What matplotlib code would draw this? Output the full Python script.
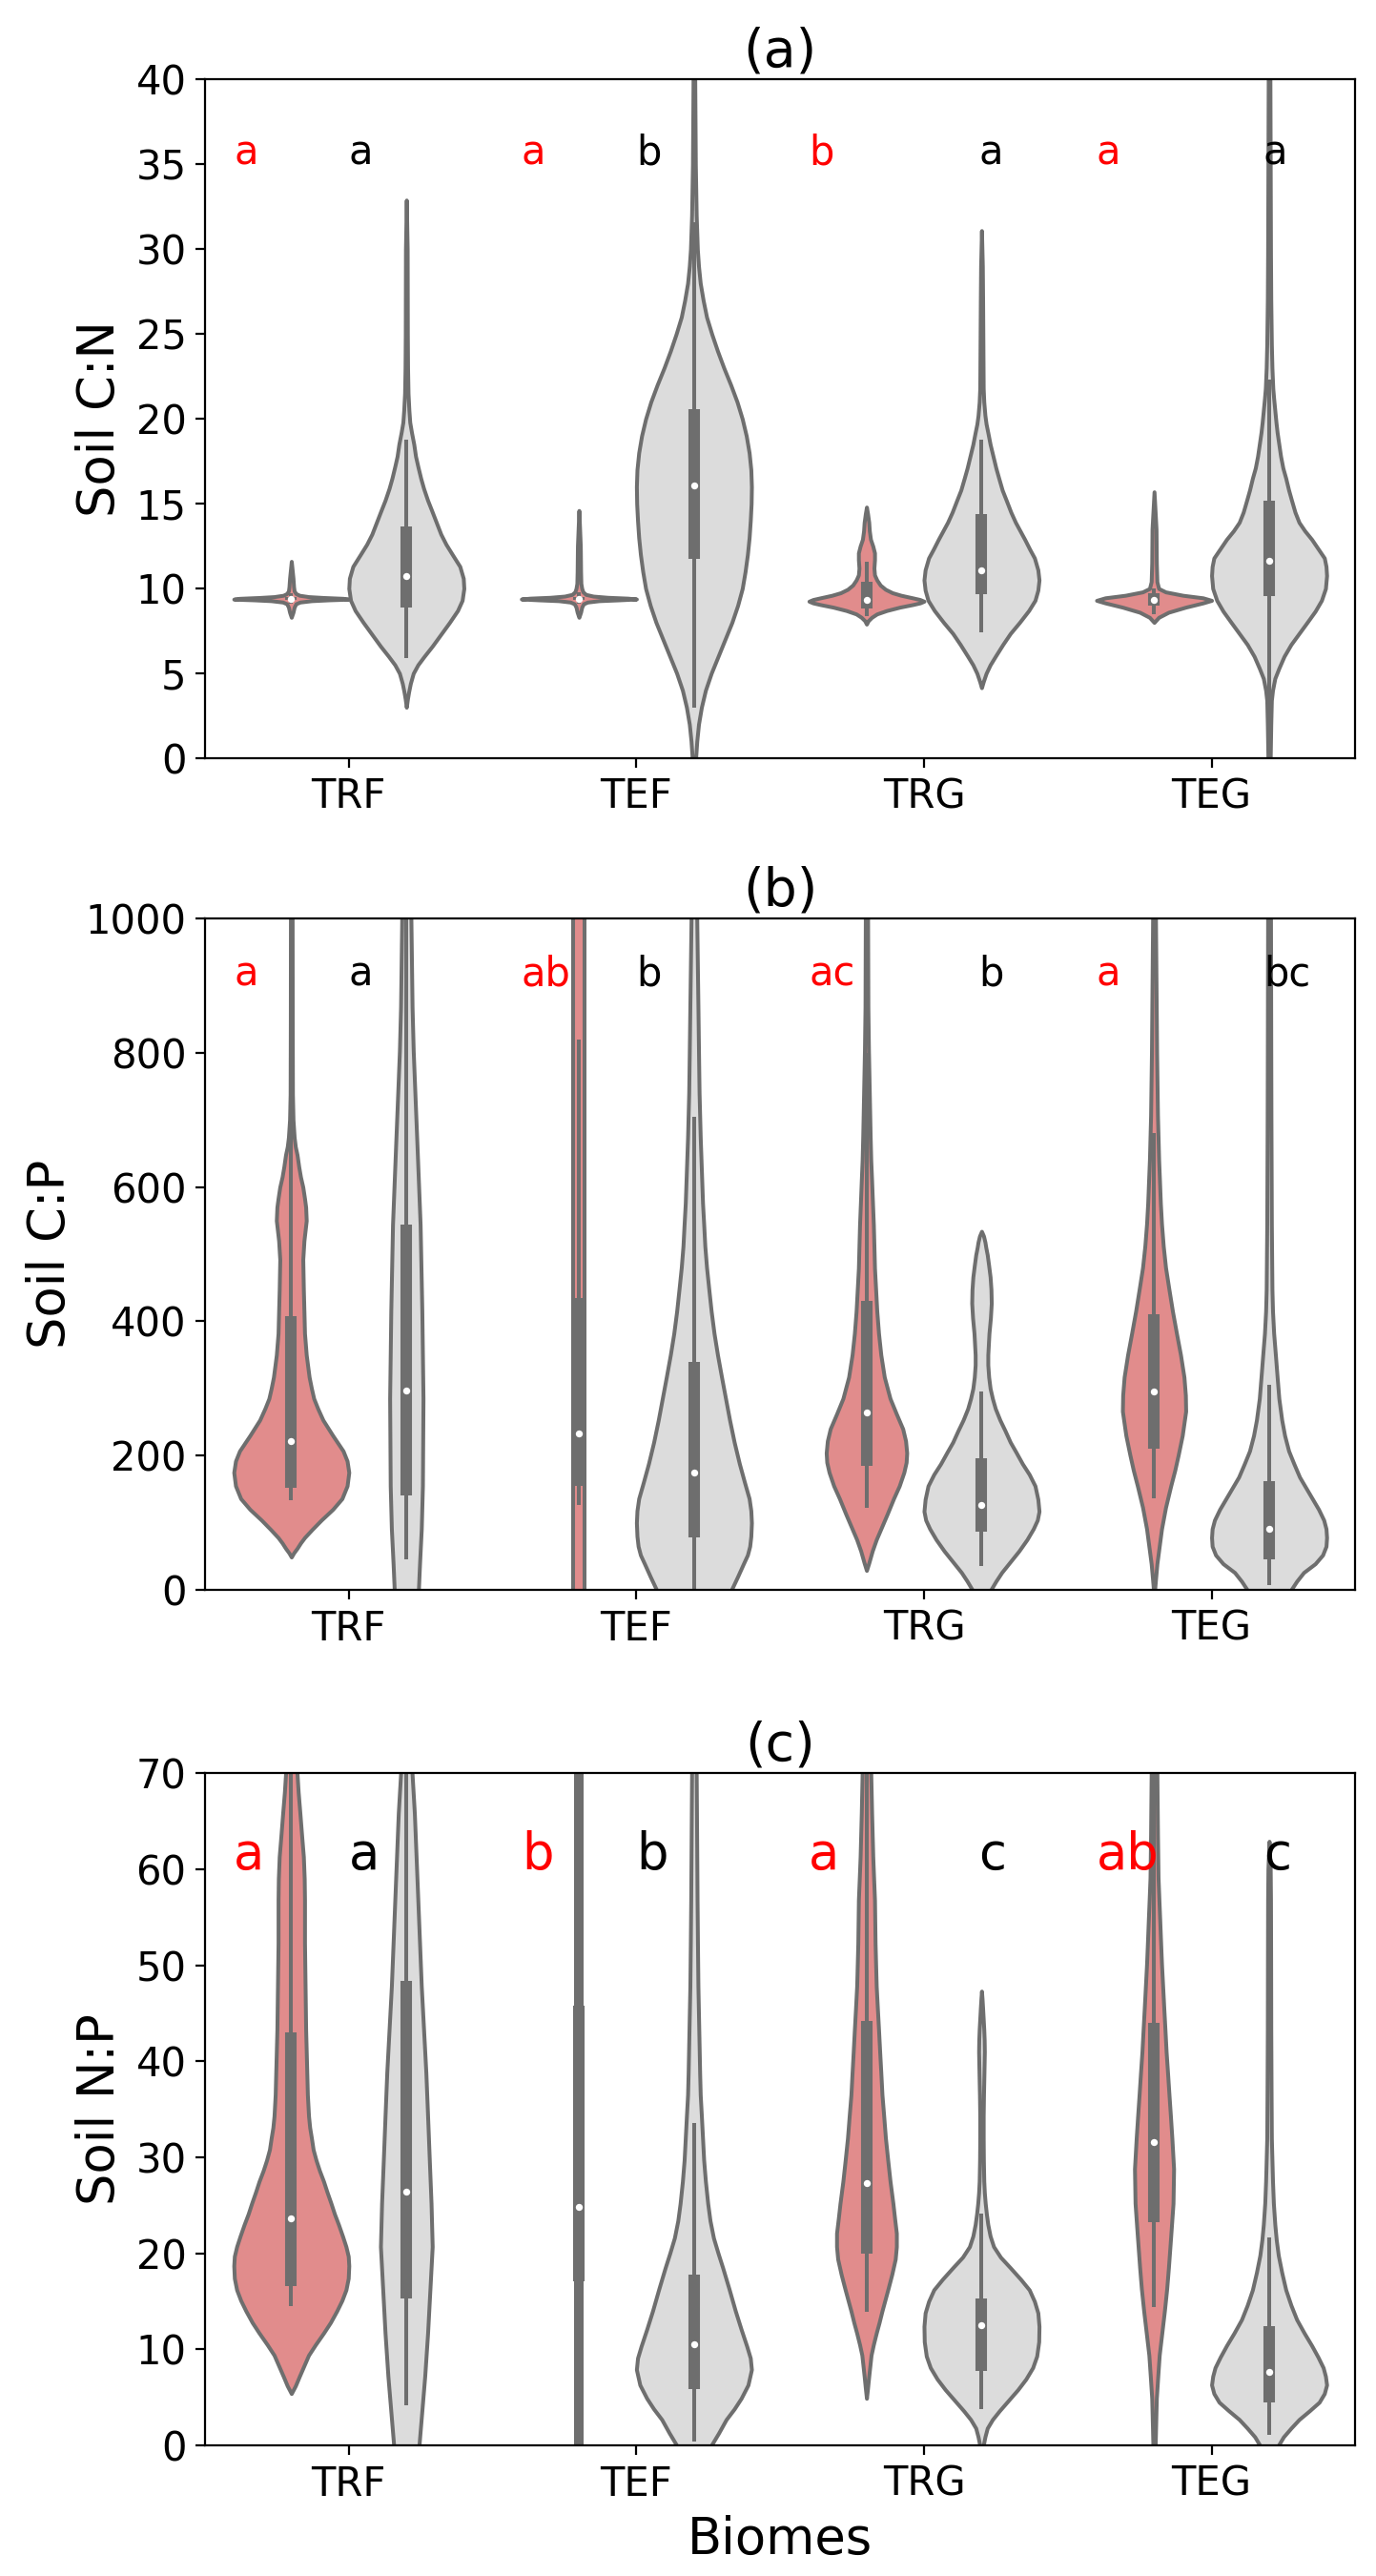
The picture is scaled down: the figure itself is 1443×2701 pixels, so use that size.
import numpy as np
import matplotlib
matplotlib.use("Agg")
import matplotlib.pyplot as plt

plt.rcParams['font.family'] = ['DejaVu Sans']

biomes = ["TRF", "TEF", "TRG", "TEG"]
fill_colors = ["#e18c8c", "#dcdcdc"]   # red group, gray group
line_gray = "#6e6e6e"

# ---- (a) Soil C:N  -- order: TRF red, TRF gray, TEF red, TEF gray, TRG red, TRG gray, TEG red, TEG gray
cn_y = [
    [8.3, 8.6, 8.9, 9.1, 9.2, 9.28, 9.33, 9.37, 9.42, 9.47, 9.52, 9.6, 9.7, 9.85, 10.1, 10.6, 11.6],
    [3.0, 3.5, 3.9, 4.4, 5.0, 5.5, 6.0, 6.6, 7.3, 8.0, 8.7, 9.3, 10.0, 10.6, 11.3, 12.0, 12.6, 13.2, 13.9,
     14.6, 15.2, 15.9, 16.5, 17.2, 17.8, 18.5, 19.2, 19.8, 20.5, 21.5, 23, 25, 30, 32.9],
    [8.3, 8.6, 8.9, 9.1, 9.2, 9.28, 9.33, 9.38, 9.43, 9.48, 9.55, 9.65, 9.8, 10.0, 10.3, 11, 12.5, 14.6],
    [-3, -1, 0, 1, 2, 3, 4, 5, 6, 7, 8, 9, 10, 11, 12, 13, 14, 15, 16, 17, 18, 19, 20, 21, 22, 23, 24,
     25, 26, 27, 28, 29, 30, 32, 35, 40, 44],
    [7.9, 8.1, 8.3, 8.5, 8.7, 8.9, 9.05, 9.15, 9.25, 9.35, 9.45, 9.6, 9.75, 9.95, 10.2, 10.5, 10.8, 11.2,
     11.7, 12.1, 12.5, 12.9, 13.4, 13.9, 14.4, 14.8],
    [4.15, 4.5, 5.0, 5.5, 6.0, 6.7, 7.35, 8.0, 8.7, 9.3, 9.9, 10.5, 11.1, 11.8, 12.3, 12.9, 13.4, 13.9,
     14.5, 15.2, 15.8, 16.5, 17.1, 17.8, 18.5, 19.2, 19.7, 20.2, 21, 21.8, 24.4, 27, 29, 31.1],
    [8.0, 8.3, 8.6, 8.9, 9.15, 9.3, 9.45, 9.6, 9.8, 10.0, 10.4, 11.5, 13.5, 15.7],
    [-3, 0, 2, 3.4, 4.0, 4.7, 5.3, 6.0, 6.7, 7.35, 8.0, 8.66, 9.3, 10.0, 10.76, 11.3, 11.8, 12.3, 12.9,
     13.4, 13.9, 14.5, 15.2, 15.8, 16.5, 17.1, 17.8, 18.5, 19.2, 19.8, 20.5, 21.2, 21.8, 23, 24.4, 27,
     29.7, 34.9, 40, 44],
]
cn_w = [
    [0, 0.03, 0.05, 0.08, 0.15, 0.35, 0.65, 1.0, 0.9, 0.55, 0.3, 0.14, 0.08, 0.05, 0.04, 0.03, 0],
    [0, 0.02, 0.04, 0.07, 0.12, 0.2, 0.31, 0.45, 0.6, 0.75, 0.89, 0.97, 1.0, 0.99, 0.93, 0.8, 0.69, 0.6, 0.52,
     0.44, 0.37, 0.3, 0.25, 0.2, 0.16, 0.13, 0.09, 0.06, 0.045, 0.03, 0.022, 0.018, 0.015, 0],
    [0, 0.03, 0.05, 0.08, 0.15, 0.35, 0.7, 1.0, 0.85, 0.5, 0.25, 0.12, 0.07, 0.05, 0.035, 0.03, 0.025, 0],
    [0, 0.015, 0.03, 0.05, 0.08, 0.13, 0.2, 0.3, 0.42, 0.54, 0.66, 0.76, 0.84, 0.89, 0.93, 0.96, 0.98, 0.995,
     1.0, 0.99, 0.96, 0.91, 0.84, 0.75, 0.64, 0.52, 0.41, 0.31, 0.22, 0.16, 0.11, 0.08, 0.06, 0.04, 0.025,
     0.015, 0.01],
    [0, 0.03, 0.09, 0.18, 0.35, 0.58, 0.8, 0.93, 1.0, 0.93, 0.8, 0.6, 0.45, 0.33, 0.24, 0.18, 0.14, 0.13,
     0.14, 0.14, 0.11, 0.07, 0.05, 0.04, 0.02, 0],
    [0, 0.03, 0.08, 0.15, 0.24, 0.37, 0.5, 0.66, 0.82, 0.93, 0.98, 1.0, 0.98, 0.92, 0.84, 0.75, 0.67, 0.59,
     0.51, 0.43, 0.36, 0.3, 0.25, 0.2, 0.15, 0.11, 0.08, 0.06, 0.04, 0.03, 0.025, 0.02, 0.015, 0],
    [0, 0.08, 0.25, 0.55, 0.85, 1.0, 0.85, 0.5, 0.2, 0.08, 0.05, 0.04, 0.035, 0],
    [0, 0.02, 0.03, 0.04, 0.06, 0.1, 0.17, 0.26, 0.38, 0.52, 0.66, 0.8, 0.91, 0.98, 1.0, 0.99, 0.96, 0.86,
     0.74, 0.62, 0.52, 0.45, 0.39, 0.34, 0.29, 0.24, 0.2, 0.17, 0.14, 0.12, 0.1, 0.08, 0.065, 0.05, 0.04,
     0.03, 0.025, 0.02, 0.015, 0.01],
]
# q1, median, q3, lower whisker, upper whisker
cn_box = [
    (9.3, 9.38, 9.5, 9.1, 9.7), (8.85, 10.76, 13.65, 5.9, 18.8),
    (9.3, 9.4, 9.5, 9.1, 9.75), (11.76, 16.1, 20.55, 3.0, 31.6),
    (8.8, 9.3, 10.4, 8.4, 11.6), (9.66, 11.07, 14.4, 7.4, 18.8),
    (9.0, 9.3, 9.7, 8.5, 10.0), (9.58, 11.63, 15.17, 1.0, 22.3),
]

# ---- (b) Soil C:P
cp_y = [
    [49, 55, 62, 70, 78, 90, 104, 120, 136, 155, 175, 192, 207, 230, 253, 270, 285, 300, 317, 350, 382, 415,
     447, 492, 520, 550, 570, 583, 600, 615, 630, 648, 660, 674, 700, 738, 850, 1000, 1100],
    [-40, 0, 39, 91, 155, 285, 415, 544, 609, 674, 738, 803, 868, 933, 997, 1100],
    [-100, 0, 500, 1000, 1100],
    [-60, -30, 0, 20, 39, 52, 65, 80, 100, 118, 136, 160, 188, 220, 253, 285, 317, 350, 382, 415, 447, 480,
     512, 545, 576, 625, 674, 740, 803, 870, 933, 997, 1100],
    [29, 40, 58, 75, 91, 113, 136, 155, 175, 190, 204, 222, 240, 262, 285, 317, 350, 382, 415, 447, 479, 512,
     544, 576, 609, 640, 674, 738, 803, 868, 1000, 1100],
    [-20, 0, 13, 26, 42, 58, 75, 91, 104, 117, 135, 155, 172, 188, 205, 220, 237, 253, 270, 285, 300, 317,
     335, 350, 366, 382, 405, 427, 447, 466, 483, 499, 510, 518, 527, 534],
    [-10, 0, 20, 39, 65, 91, 123, 155, 178, 201, 230, 266, 290, 317, 350, 382, 415, 447, 480, 512, 545, 576,
     609, 641, 674, 706, 800, 900, 1000, 1100],
    [-40, -20, 0, 13, 26, 39, 52, 65, 78, 91, 104, 120, 136, 152, 168, 188, 207, 230, 253, 285, 317, 350,
     382, 415, 447, 544, 700, 800, 1000, 1100],
]
cp_w = [
    [0, 0.04, 0.1, 0.16, 0.23, 0.36, 0.52, 0.72, 0.88, 0.97, 1.0, 0.97, 0.9, 0.72, 0.55, 0.46, 0.39, 0.35,
     0.31, 0.26, 0.23, 0.22, 0.21, 0.2, 0.22, 0.26, 0.25, 0.23, 0.2, 0.16, 0.13, 0.1, 0.07, 0.05, 0.03, 0.02,
     0.017, 0.015, 0.01],
    [0.19, 0.21, 0.23, 0.26, 0.28, 0.29, 0.27, 0.24, 0.21, 0.18, 0.15, 0.12, 0.1, 0.09, 0.08, 0.07],
    [0.095, 0.095, 0.095, 0.095, 0.095],
    [0.35, 0.5, 0.65, 0.76, 0.86, 0.93, 0.97, 0.99, 1.0, 0.99, 0.96, 0.88, 0.79, 0.7, 0.62, 0.55, 0.48, 0.41,
     0.35, 0.3, 0.26, 0.22, 0.19, 0.17, 0.15, 0.13, 0.11, 0.09, 0.08, 0.07, 0.06, 0.05, 0.045],
    [0, 0.04, 0.1, 0.17, 0.25, 0.36, 0.47, 0.57, 0.65, 0.69, 0.7, 0.68, 0.63, 0.52, 0.41, 0.31, 0.25, 0.21,
     0.18, 0.16, 0.14, 0.13, 0.12, 0.105, 0.09, 0.075, 0.065, 0.05, 0.035, 0.025, 0.02, 0.015],
    [0.02, 0.16, 0.25, 0.35, 0.5, 0.65, 0.79, 0.9, 0.97, 1.0, 0.98, 0.93, 0.83, 0.71, 0.6, 0.5, 0.41, 0.32,
     0.24, 0.19, 0.15, 0.125, 0.11, 0.11, 0.12, 0.13, 0.155, 0.17, 0.165, 0.15, 0.125, 0.1, 0.075, 0.06,
     0.035, 0],
    [0, 0.01, 0.03, 0.05, 0.09, 0.13, 0.2, 0.29, 0.36, 0.42, 0.49, 0.55, 0.545, 0.52, 0.46, 0.39, 0.32, 0.26,
     0.2, 0.16, 0.13, 0.11, 0.095, 0.08, 0.07, 0.06, 0.045, 0.035, 0.025, 0.02],
    [0.05, 0.2, 0.38, 0.48, 0.6, 0.8, 0.93, 0.99, 1.0, 0.99, 0.95, 0.86, 0.75, 0.64, 0.53, 0.43, 0.34, 0.27,
     0.22, 0.17, 0.14, 0.11, 0.08, 0.06, 0.05, 0.04, 0.033, 0.03, 0.025, 0.02],
]
cp_box = [
    (152, 221.5, 408, 134, 792), (141, 297, 544, 45, 1148),
    (155, 233, 434, 126, 819), (78, 175, 340, 0, 705),
    (185, 264, 431, 122, 800), (87, 126, 196, 36, 295),
    (210, 295, 411, 136, 681), (45, 91, 162, 6.5, 306),
]

# ---- (c) Soil N:P
np_y = [
    [5.4, 6.2, 7.2, 8.3, 9.4, 10.5, 11.7, 12.8, 14.0, 15.1, 16.2, 17.4, 18.7, 19.7, 20.7, 21.8, 23.0, 24.1,
     25.2, 26.4, 27.5, 28.6, 29.7, 30.8, 32, 33.1, 34.3, 36.5, 38.8, 43.3, 47.8, 52.3, 56.8, 59, 61.3, 63.5,
     65.8, 68, 69.9, 72, 75, 80],
    [-5, 0, 3.6, 7.2, 11.7, 16.2, 20.7, 25.2, 29.7, 34.3, 38.8, 43.3, 47.8, 52.3, 56.8, 61.3, 65.8, 69.9, 75],
    [-10, 0, 40, 70, 80],
    [-3, -1.5, 0, 1.3, 2.7, 3.8, 4.9, 6.3, 7.9, 9.1, 10.3, 12.1, 14.0, 16.3, 18.5, 20, 21.6, 23.4, 25.2,
     27.5, 29.7, 32, 34.3, 36.5, 38.8, 43.3, 47.8, 52.3, 56.8, 61.3, 65.8, 69.9, 75],
    [4.9, 6.0, 7.2, 8.3, 9.4, 10.5, 11.7, 12.8, 14.0, 15.1, 16.2, 17.8, 19.4, 20.7, 22.1, 23.6, 25.2, 27.5,
     29.7, 32, 34.3, 36.5, 38.8, 41, 43.3, 45.5, 47.8, 50, 52.3, 56.8, 59, 61.3, 65.8, 70, 75],
    [-1, 0, 0.9, 1.8, 2.7, 3.6, 4.7, 5.8, 6.9, 8.1, 9.3, 10.8, 12.4, 13.8, 15.0, 16.2, 17.3, 18.5, 19.6,
     20.7, 21.8, 23.0, 24.1, 25.2, 26.3, 27.5, 29.7, 32, 34.3, 36.5, 38.8, 41, 42.2, 43.3, 44.4, 45.5, 46.5,
     47.3],
    [-2, 0, 2.5, 4.9, 7.2, 9.4, 11.7, 14, 16.3, 18.5, 21.8, 25.2, 28.8, 32, 34.3, 36.5, 38.8, 41, 43.3,
     45.5, 47.8, 50.1, 52.3, 54.6, 56.8, 59.1, 61.3, 63.6, 66.8, 70, 75],
    [-2, -1, 0, 0.9, 1.8, 2.7, 3.6, 4.5, 5.4, 6.3, 7.2, 8.1, 9.2, 10.4, 11.7, 13.1, 14.6, 16.2, 18, 19.8,
     21.4, 23, 25.2, 27.5, 29.7, 32, 37, 43.3, 50, 56.8, 60, 62.9],
]
np_w = [
    [0, 0.07, 0.14, 0.22, 0.3, 0.42, 0.56, 0.68, 0.79, 0.88, 0.95, 0.99, 1.0, 0.99, 0.95, 0.89, 0.82, 0.75,
     0.69, 0.62, 0.56, 0.49, 0.43, 0.38, 0.35, 0.32, 0.3, 0.28, 0.27, 0.25, 0.24, 0.23, 0.23, 0.225, 0.21,
     0.18, 0.15, 0.12, 0.1, 0.05, 0.02, 0],
    [0.18, 0.22, 0.27, 0.32, 0.37, 0.41, 0.45, 0.43, 0.4, 0.37, 0.34, 0.3, 0.26, 0.23, 0.2, 0.17, 0.14, 0.1, 0.07],
    [0.05, 0.05, 0.05, 0.05, 0.05],
    [0.1, 0.2, 0.3, 0.43, 0.56, 0.7, 0.82, 0.94, 1.0, 0.98, 0.92, 0.82, 0.72, 0.61, 0.5, 0.42, 0.34, 0.28,
     0.24, 0.2, 0.17, 0.15, 0.13, 0.11, 0.1, 0.085, 0.07, 0.062, 0.055, 0.05, 0.045, 0.04, 0.035],
    [0, 0.02, 0.04, 0.06, 0.08, 0.12, 0.17, 0.22, 0.27, 0.32, 0.37, 0.44, 0.5, 0.52, 0.52, 0.49, 0.46, 0.41,
     0.37, 0.33, 0.3, 0.27, 0.25, 0.23, 0.21, 0.19, 0.17, 0.16, 0.15, 0.14, 0.125, 0.11, 0.09, 0.075, 0.06],
    [0, 0.03, 0.06, 0.1, 0.19, 0.31, 0.47, 0.63, 0.77, 0.89, 0.96, 0.995, 1.0, 0.98, 0.92, 0.83, 0.68, 0.5,
     0.33, 0.21, 0.15, 0.11, 0.085, 0.065, 0.05, 0.04, 0.033, 0.03, 0.03, 0.035, 0.043, 0.05, 0.047, 0.04,
     0.03, 0.02, 0.01, 0],
    [0, 0.02, 0.03, 0.04, 0.065, 0.09, 0.135, 0.18, 0.22, 0.25, 0.29, 0.33, 0.34, 0.31, 0.285, 0.26, 0.235,
     0.21, 0.19, 0.17, 0.15, 0.13, 0.115, 0.1, 0.085, 0.07, 0.065, 0.06, 0.055, 0.05, 0.04],
    [0.02, 0.08, 0.16, 0.25, 0.38, 0.52, 0.7, 0.87, 0.96, 1.0, 0.98, 0.94, 0.85, 0.74, 0.61, 0.48, 0.38,
     0.29, 0.22, 0.16, 0.125, 0.1, 0.075, 0.06, 0.05, 0.04, 0.035, 0.03, 0.028, 0.025, 0.02, 0],
]
np_box = [
    (16.6, 23.6, 43.0, 14.5, 82.6), (15.3, 26.4, 48.4, 4.2, 98),
    (17.1, 24.8, 45.8, 0.0, 88), (5.9, 10.5, 17.8, 0.4, 33.6),
    (20.0, 27.3, 44.2, 13.9, 80), (7.8, 12.5, 15.3, 3.8, 24.1),
    (23.2, 31.6, 44.0, 14.4, 75), (4.5, 7.7, 12.4, 1.1, 21.7),
]

# significance letters (red group, gray group) per biome
cn_letters = [("a", "a"), ("a", "b"), ("b", "a"), ("a", "a")]
cp_letters = [("a", "a"), ("ab", "b"), ("ac", "b"), ("a", "bc")]
np_letters = [("a", "a"), ("b", "b"), ("a", "c"), ("ab", "c")]
gray_letter_x = [0.0, 1.0, 2.19, 3.18]

panels = [
    dict(y=cn_y, w=cn_w, box=cn_box, letters=cn_letters, ylim=(0, 40), yticks=np.arange(0, 41, 5),
         ylabel="Soil C:N", title="(a)", letter_y=35, letter_size=15, rect=[0.149, 0.7057, 0.836, 0.2634]),
    dict(y=cp_y, w=cp_w, box=cp_box, letters=cp_letters, ylim=(0, 1000), yticks=np.arange(0, 1001, 200),
         ylabel="Soil C:P", title="(b)", letter_y=900, letter_size=15, rect=[0.149, 0.3828, 0.836, 0.2607]),
    dict(y=np_y, w=np_w, box=np_box, letters=np_letters, ylim=(0, 70), yticks=np.arange(0, 71, 10),
         ylabel="Soil N:P", title="(c)", letter_y=60, letter_size=19, rect=[0.149, 0.0507, 0.836, 0.2610]),
]

lw = 1.45
fig = plt.figure(figsize=(7.215, 13.505), dpi=200)

for p in panels:
    ax = fig.add_axes(p["rect"])
    positions = []
    stats = []
    widths = []
    for k in range(8):
        b = k // 2
        pos = b + (-0.2 if k % 2 == 0 else 0.2)
        q1, med, q3, lo, hi = p["box"][k]
        vals = np.array(p["w"][k], dtype=float)
        stats.append(dict(coords=np.array(p["y"][k], dtype=float), vals=vals,
                          mean=med, median=med, min=lo, max=hi))
        positions.append(pos)
        widths.append(0.4 * vals.max())
    parts = ax.violin(stats, positions=positions, widths=widths,
                      showmeans=False, showextrema=False, showmedians=False)
    for k, body in enumerate(parts["bodies"]):
        body.set_facecolor(fill_colors[k % 2])
        body.set_edgecolor(line_gray)
        body.set_linewidth(lw)
        body.set_alpha(1)
        body.set_zorder(1 + k * 0.01)
    for k in range(8):
        pos = positions[k]
        q1, med, q3, lo, hi = p["box"][k]
        ax.plot([pos, pos], [lo, hi], color=line_gray, lw=lw, solid_capstyle="butt", zorder=2)
        ax.plot([pos, pos], [q1, q3], color=line_gray, lw=lw * 3, solid_capstyle="butt", zorder=2)
        ax.scatter([pos], [med], s=7, color="white", linewidths=0, zorder=3)

    for b, (lr, lg) in enumerate(p["letters"]):
        ax.text(b - 0.4, p["letter_y"], lr, color="red", fontsize=p["letter_size"],
                ha="left", va="baseline")
        ax.text(gray_letter_x[b], p["letter_y"], lg, color="black", fontsize=p["letter_size"],
                ha="left", va="baseline")

    ax.set_xlim(-0.5, 3.5)
    ax.set_ylim(*p["ylim"])
    ax.set_yticks(p["yticks"])
    ax.set_xticks(range(4))
    ax.set_xticklabels(biomes)
    ax.tick_params(labelsize=15)
    ax.set_ylabel(p["ylabel"], fontsize=19)
    ax.set_title(p["title"], fontsize=20, pad=5)

ax.set_xlabel("Biomes", fontsize=19)

fig.savefig("out.png", dpi=200)
